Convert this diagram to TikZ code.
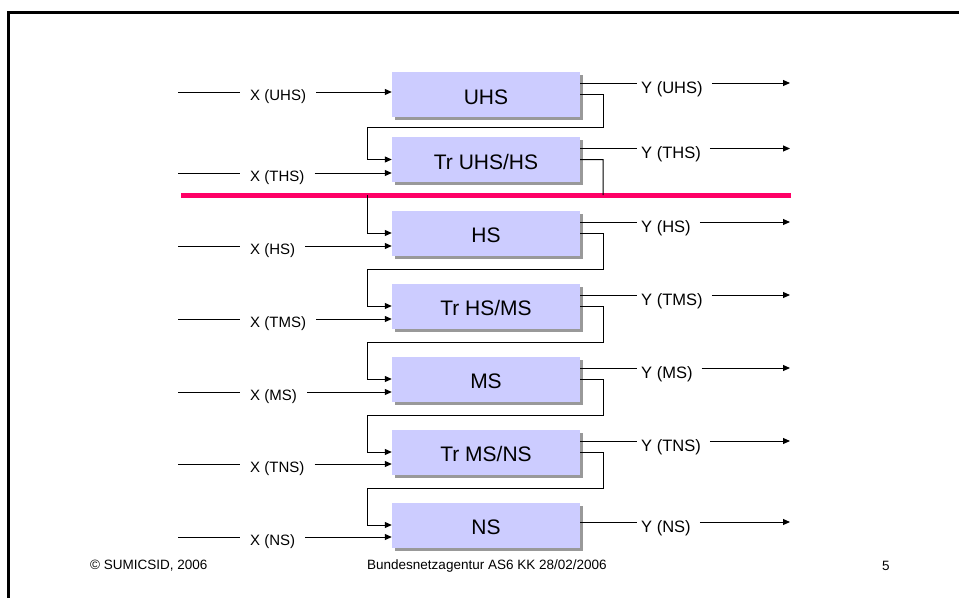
\documentclass[tikz,border=0pt]{standalone}
\usepackage{fontspec}
\setmainfont{Liberation Sans}
\usetikzlibrary{positioning,arrows.meta,shadows}
\definecolor{levelblue}{HTML}{CCCCFF}
\definecolor{cutred}{HTML}{FF0066}
\definecolor{shadowgray}{HTML}{999999}

\begin{document}
\begin{tikzpicture}[
    x=1pt, y=-1pt,
    levelBox/.style={rectangle, fill=levelblue, minimum width=188pt, minimum height=45pt, inner sep=0pt,
        font=\fontsize{21}{24}\selectfont, text height=19pt, text depth=0pt,
        drop shadow={shadow xshift=3pt, shadow yshift=-3pt, fill=shadowgray, opacity=1}},
    flowLabel/.style={anchor=west, inner ysep=0pt, font=\fontsize{15}{17}\selectfont,
        text height=17pt, text depth=0pt},
    footLabel/.style={anchor=west, inner sep=0pt, font=\fontsize{13.5}{15}\selectfont},
    flow/.style={line width=1pt},
    tip/.style={-{Triangle[length=7pt,width=6pt]}}
]
    \useasboundingbox (0,0) rectangle (959,598);

    % Slide frame
    \draw[line width=3pt] (959,12.5) -- (8,12.5) -- (8,598);

    % Voltage levels
    \node[levelBox] (uhs)    at (486,94.5)  {UHS};
    \node[levelBox] (truhs)  at (486,159.5) {Tr UHS/HS};
    \node[levelBox] (hs)     at (486,233)   {HS};
    \node[levelBox] (trhsms) at (486,306)   {Tr HS/MS};
    \node[levelBox] (ms)     at (486,379)   {MS};
    \node[levelBox] (trmsns) at (486,452)   {Tr MS/NS};
    \node[levelBox] (ns)     at (486,525)   {NS};

    % Inputs X
    \foreach \nm/\txt/\yy in {uhs/UHS/92, truhs/THS/173, hs/HS/246, trhsms/TMS/319,
                              ms/MS/392, trmsns/TNS/464, ns/NS/537} {
        \coordinate (x\nm-in) at (178,\yy);
        \node[flowLabel, inner xsep=10pt] (x\nm) at (240,\yy) {X (\txt)};
        \draw[flow] (x\nm-in) -- (x\nm.west);
        \draw[flow, tip] (x\nm.east) -- (x\nm.east -| \nm.west);
    }

    % Outputs Y
    \foreach \nm/\txt/\yy in {uhs/UHS/83, truhs/THS/148.5, hs/HS/222, trhsms/TMS/295,
                              ms/MS/368, trmsns/TNS/441, ns/NS/522} {
        \node[flowLabel, inner xsep=4pt, text height=20pt, font=\fontsize{16.5}{18}\selectfont] (y\nm) at (637,\yy) {Y (\txt)};
        \coordinate (y\nm-out) at (790,\yy);
        \draw[flow] (y\nm.west -| \nm.east) -- (y\nm.west);
        \draw[flow, tip, shorten <=5pt] (y\nm.east) -- (y\nm-out);
    }

    % Boundary line
    \coordinate (cutL) at (181,195);
    \coordinate (cutR) at (791,195);
    \draw[cutred, line width=5pt] (cutL) -- (cutR);

    % Feedback loops
    \draw[flow, tip] (uhs.east) -- ++(23,0) |- (367,127) |- (truhs.west);
    \draw[flow] (truhs.east) -- ++(23,0) -- (cutR -| 603,0);
    \draw[flow, tip] (cutL -| 367,0) |- (hs.west);
    \draw[flow, tip] (hs.east) -- ++(23,0) |- (367,269.5) |- (trhsms.west);
    \draw[flow, tip] (trhsms.east) -- ++(23,0) |- (367,342.5) |- (ms.west);
    \draw[flow, tip] (ms.east) -- ++(23,0) |- (367,415.5) |- (trmsns.west);
    \draw[flow, tip] (trmsns.east) -- ++(23,0) |- (367,488.5) |- (ns.west);

    % Footer
    \node[footLabel] (copy) at (90,566) {© SUMICSID, 2006};
    \node[footLabel] (agency) at (367,566) {Bundesnetzagentur AS6 KK 28/02/2006};
    \node[footLabel] (page) at (882,566) {5};
\end{tikzpicture}
\end{document}
